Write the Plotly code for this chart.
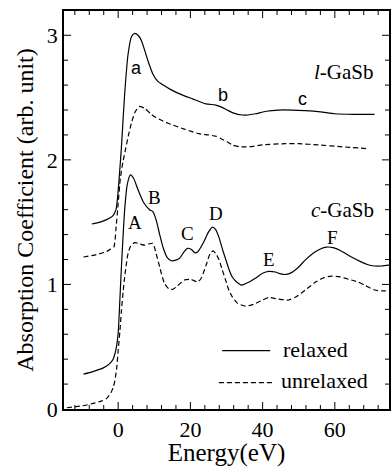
import plotly.graph_objects as go

# ---- data ----
l_relaxed_x = [-7.3, -5, -3.2, -1.5, -0.6, -0.1, 0.4, 0.9, 1.8, 2.75, 3.7, 4.6, 5.5, 6.4, 8.2, 9.6, 11, 12.5,
               14.2, 17, 20.6, 24.3, 27, 28.5, 30.2, 32, 34.3, 36, 38, 41, 44.4, 48, 51.8, 56, 60, 65, 71]
l_relaxed_y = [1.485, 1.50, 1.52, 1.55, 1.60, 1.72, 1.90, 2.10, 2.53, 2.85, 2.99, 3.015, 3.0, 2.96, 2.80, 2.69,
               2.63, 2.60, 2.57, 2.53, 2.49, 2.45, 2.44, 2.425, 2.40, 2.375, 2.36, 2.36, 2.37, 2.39, 2.40, 2.40,
               2.395, 2.385, 2.37, 2.365, 2.365]

l_unrel_x = [-9.6, -6, -3.5, -2.3, -1.2, -0.6, 0, 0.6, 1.3, 2.0, 2.8, 3.8, 4.8, 6, 7.5, 9, 10.5, 12.5, 15.1,
             18.5, 22.4, 25, 27, 28.5, 30.2, 31.6, 33.5, 36.2, 40, 46.3, 50, 55.4, 62, 69.1]
l_unrel_y = [1.22, 1.24, 1.26, 1.28, 1.30, 1.45, 1.65, 1.85, 1.98, 2.08, 2.19, 2.31, 2.39, 2.43, 2.41, 2.37,
             2.34, 2.31, 2.28, 2.245, 2.21, 2.20, 2.19, 2.17, 2.145, 2.12, 2.105, 2.105, 2.12, 2.13, 2.13,
             2.12, 2.105, 2.09]

c_relaxed_x = [-9.6, -7, -4.1, -2.5, -1.4, -0.6, 0, 0.47, 0.9, 1.4, 1.8, 2.5, 3.4, 4.3, 5.5, 7, 8.7, 9.6, 10.5,
               11.5, 12.4, 13.5, 14.7, 16, 17, 18.2, 19.2, 20.3, 21.2, 22, 23.5, 25, 26.1, 27, 28, 29, 29.8,
               30.7, 31.6, 32.8, 34.2, 36, 38, 40, 41.7, 43.5, 45, 46.5, 48, 50, 51.8, 54, 56, 57.7, 59.5, 62,
               64.6, 67, 69, 71, 73, 75]
c_relaxed_y = [0.28, 0.30, 0.33, 0.36, 0.40, 0.48, 0.61, 0.875, 1.14, 1.41, 1.60, 1.80, 1.88, 1.85, 1.76, 1.66,
               1.60, 1.585, 1.52, 1.40, 1.30, 1.22, 1.19, 1.195, 1.21, 1.26, 1.29, 1.28, 1.255, 1.26, 1.33,
               1.42, 1.46, 1.44, 1.37, 1.27, 1.20, 1.12, 1.06, 1.02, 0.995, 1.015, 1.05, 1.09, 1.105, 1.10,
               1.085, 1.08, 1.095, 1.14, 1.195, 1.25, 1.285, 1.30, 1.295, 1.265, 1.22, 1.185, 1.16, 1.148,
               1.148, 1.155]

c_unrel_x = [-14.2, -10, -6.9, -4.5, -3.2, -2, -1.3, -0.9, -0.4, 0, 0.5, 0.9, 1.4, 1.8, 2.3, 2.75, 3.5, 4.6,
             6, 7.3, 8.5, 9.6, 10.5, 11.5, 12.8, 14, 15.1, 16.5, 18.3, 20.2, 22, 23, 24.3, 25.5, 26.3, 27.2,
             27.9, 28.8, 29.8, 30.7, 31.6, 33, 35.3, 37.5, 40, 41.7, 44, 47.2, 49.5, 51.8, 55, 57, 59.1, 61.5,
             64, 66.4, 68.5, 71, 73, 75]
c_unrel_y = [0.01, 0.025, 0.045, 0.065, 0.085, 0.13, 0.18, 0.23, 0.33, 0.47, 0.63, 0.79, 0.95, 1.06, 1.17, 1.25,
             1.31, 1.335, 1.325, 1.315, 1.325, 1.33, 1.25, 1.14, 1.01, 0.965, 0.96, 0.99, 1.035, 1.04, 1.02,
             1.05, 1.15, 1.25, 1.27, 1.24, 1.20, 1.12, 1.03, 0.95, 0.90, 0.85, 0.826, 0.84, 0.875, 0.895,
             0.885, 0.875, 0.905, 0.955, 1.025, 1.055, 1.067, 1.06, 1.04, 1.02, 0.99, 0.955, 0.948, 0.95]

peak_lower = ["a", "b", "c"]
peak_lower_x = [5.2, 29.0, 51.0]
peak_lower_y = [2.74, 2.52, 2.49]

peak_upper = ["A", "B", "C", "D", "E", "F"]
peak_upper_x = [4.6, 10.1, 19.2, 27.2, 41.9, 59.3]
peak_upper_y = [1.50, 1.70, 1.41, 1.57, 1.20, 1.38]

x_major = [0, 20, 40, 60]
x_minor = [v for v in range(-12, 76, 4) if v % 20 != 0]
y_major = [0, 1, 2, 3]
y_minor = [round(i * 0.2, 2) for i in range(1, 16) if i % 5 != 0]

SERIF = "Liberation Serif"
SANS = "Liberation Sans"

fig = go.Figure()
line_solid = dict(color="black", width=1.2, shape="spline", smoothing=0.6)
line_dash = dict(color="black", width=1.2, shape="spline", smoothing=0.6, dash="5px,3px")

fig.add_trace(go.Scatter(x=l_relaxed_x, y=l_relaxed_y, mode="lines", line=line_solid, name="relaxed"))
fig.add_trace(go.Scatter(x=l_unrel_x, y=l_unrel_y, mode="lines", line=line_dash, name="unrelaxed"))
fig.add_trace(go.Scatter(x=c_relaxed_x, y=c_relaxed_y, mode="lines", line=line_solid, showlegend=False))
fig.add_trace(go.Scatter(x=c_unrel_x, y=c_unrel_y, mode="lines", line=line_dash, showlegend=False))

ann = []
for t, x, y in zip(peak_lower, peak_lower_x, peak_lower_y):
    ann.append(dict(x=x, y=y, text=t, showarrow=False, font=dict(family=SANS, size=18, color="black"),
                    xanchor="center", yanchor="middle"))
for t, x, y in zip(peak_upper, peak_upper_x, peak_upper_y):
    ann.append(dict(x=x, y=y, text=t, showarrow=False, font=dict(family=SERIF, size=19, color="black"),
                    xanchor="center", yanchor="middle"))
ann.append(dict(x=71.5, y=2.707, text="<i>l</i>-GaSb", showarrow=False,
                font=dict(family=SERIF, size=21, color="black"), xanchor="right", yanchor="middle"))
ann.append(dict(x=71.5, y=1.597, text="<i>c</i>-GaSb", showarrow=False,
                font=dict(family=SERIF, size=21, color="black"), xanchor="right", yanchor="middle"))
# legend
ann.append(dict(x=45.0, y=0.474, text="relaxed", showarrow=False,
                font=dict(family=SERIF, size=22, color="black"), xanchor="left", yanchor="middle"))
ann.append(dict(x=44.4, y=0.228, text="unrelaxed", showarrow=False,
                font=dict(family=SERIF, size=22, color="black"), xanchor="left", yanchor="middle"))

shapes = [
    dict(type="line", x0=28.8, x1=42.1, y0=0.468, y1=0.468, line=dict(color="black", width=1.2)),
    dict(type="line", x0=27.9, x1=42.7, y0=0.211, y1=0.211, line=dict(color="black", width=1.2, dash="5px,3px")),
]

# tick marks on all four sides (inward), sized in pixels
def xtick(v, length):
    out = []
    for anchor, sign in ((0, 1), (1, -1)):
        out.append(dict(type="line", xref="x", yref="paper", x0=v, x1=v, ysizemode="pixel", yanchor=anchor,
                        y0=0, y1=sign * length, line=dict(color="black", width=1)))
    return out

def ytick(v, length):
    out = []
    for anchor, sign in ((0, 1), (1, -1)):
        out.append(dict(type="line", xref="paper", yref="y", y0=v, y1=v, xsizemode="pixel", xanchor=anchor,
                        x0=0, x1=sign * length, line=dict(color="black", width=1)))
    return out

for v in x_major:
    shapes += xtick(v, 7)
for v in x_minor:
    shapes += xtick(v, 4)
for v in y_major[1:]:
    shapes += ytick(v, 7)
for v in y_minor:
    shapes += ytick(v, 4)

axis_common = dict(
    showline=True, linecolor="black", linewidth=1.5, mirror=True,
    ticks="", showgrid=False, zeroline=False,
    tickfont=dict(family=SERIF, size=22, color="black"),
)

fig.update_layout(
    width=391, height=467,
    margin=dict(l=64, r=0, t=11, b=58),
    paper_bgcolor="white", plot_bgcolor="white",
    showlegend=False,
    font=dict(family=SERIF, color="black"),
    annotations=ann, shapes=shapes,
    xaxis=dict(range=[-15, 75], tickmode="array", tickvals=x_major,
               title=dict(text="Energy(eV)", font=dict(family=SERIF, size=25, color="black"), standoff=0),
               **axis_common),
    yaxis=dict(range=[0, 3.195], tickmode="array", tickvals=y_major,
               title=dict(text="Absorption Coefficient (arb. unit)", font=dict(family=SERIF, size=24, color="black"),
                          standoff=6),
               **axis_common),
)

fig.write_html("out.html")
